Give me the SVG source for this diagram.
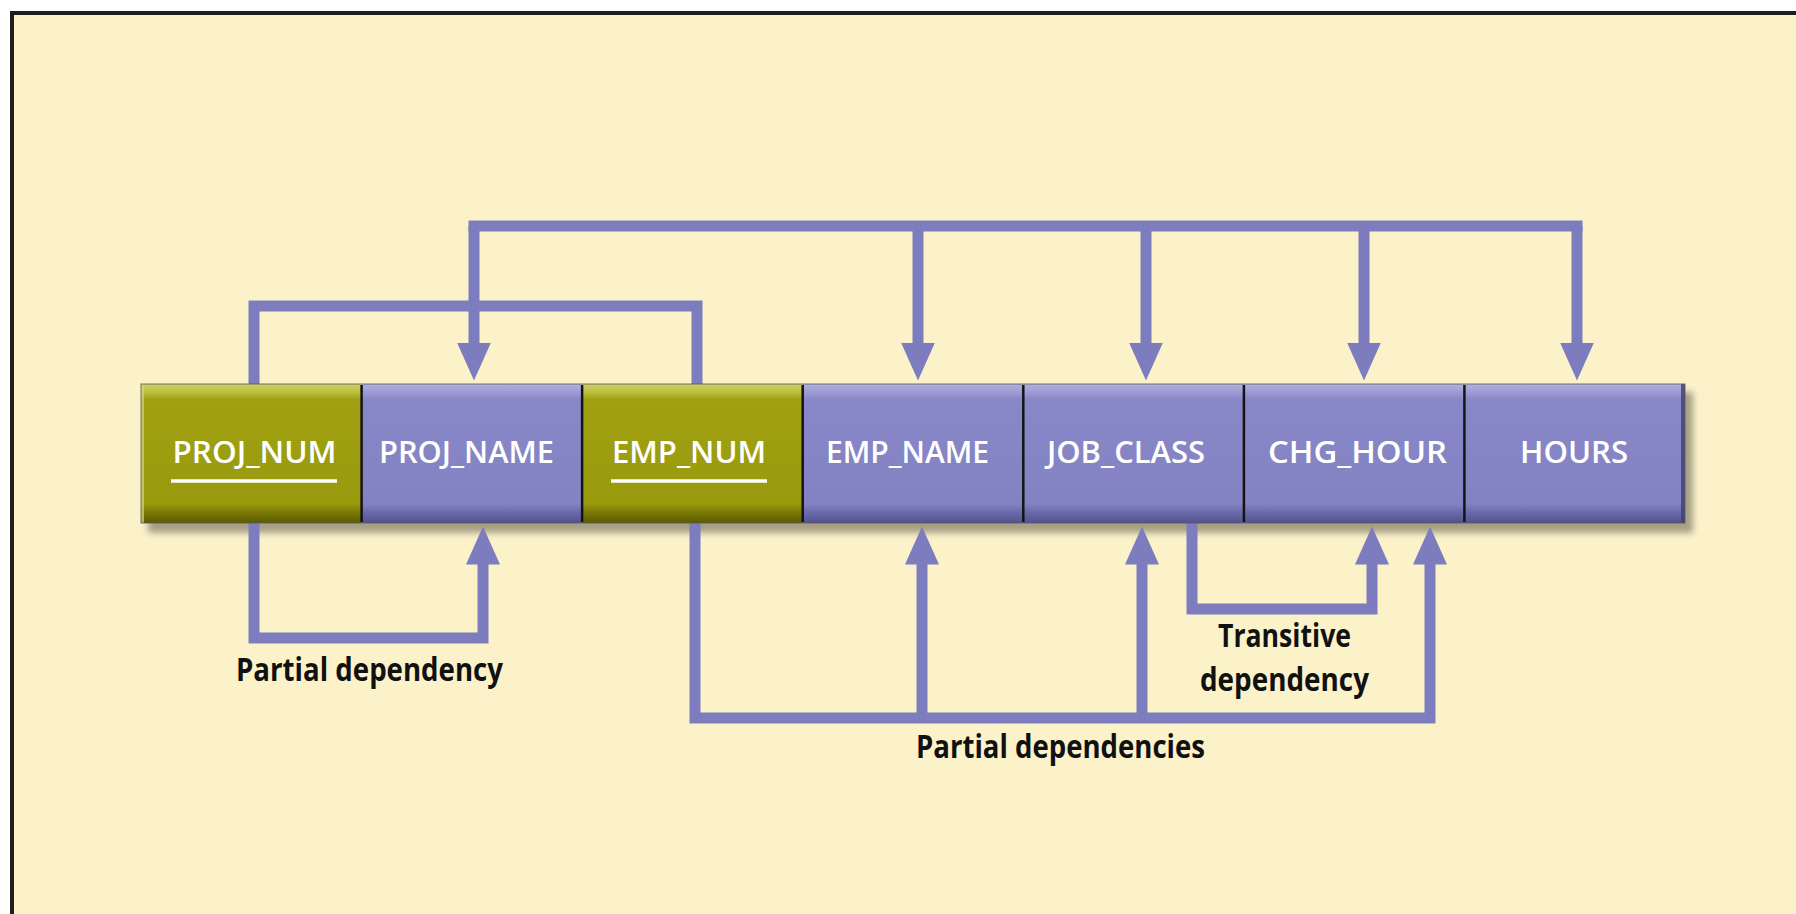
<svg xmlns="http://www.w3.org/2000/svg" width="1796" height="914" viewBox="0 0 1796 914">
  <defs>
    <style>
      .frame { fill: none; stroke: #1e1e1e; stroke-width: 4; }
      .link { fill: none; stroke: #7c7cbf; stroke-width: 11; stroke-linejoin: miter; stroke-linecap: butt; }
      .bus { stroke-linecap: square; }
      .arrow { marker-end: url(#head); }
      .cell-olive { fill: url(#olive); }
      .cell-violet { fill: url(#violet); }
      .sep { stroke: #141414; stroke-width: 2.5; }
      .field { font-family: "Open Sans", "Liberation Sans", sans-serif; font-weight: 600; font-size: 31px; fill: #ffffff; }
      .key { stroke: #ffffff; stroke-width: 3.5; }
      .note { font-family: "Open Sans", "Liberation Sans", sans-serif; font-weight: 700; font-size: 32px; fill: #111111; }
    </style>
    <marker id="head" viewBox="0 -17 38 34" markerWidth="38" markerHeight="34" refX="0.5" refY="0" orient="auto" markerUnits="userSpaceOnUse">
      <path d="M0,-17 L38,0 L0,17 Z" fill="#7c7cbf"/>
    </marker>
    <linearGradient id="olive" x1="0" y1="0" x2="0" y2="1">
      <stop offset="0" stop-color="#cfcf6a"/>
      <stop offset="0.06" stop-color="#bdbd3e"/>
      <stop offset="0.11" stop-color="#a0a012"/>
      <stop offset="0.86" stop-color="#9a9a0e"/>
      <stop offset="0.92" stop-color="#7b7a04"/>
      <stop offset="1" stop-color="#5c5b00"/>
    </linearGradient>
    <linearGradient id="violet" x1="0" y1="0" x2="0" y2="1">
      <stop offset="0" stop-color="#b0b0e0"/>
      <stop offset="0.06" stop-color="#9c9cd4"/>
      <stop offset="0.11" stop-color="#8888c8"/>
      <stop offset="0.86" stop-color="#8383c4"/>
      <stop offset="0.92" stop-color="#6c6cac"/>
      <stop offset="1" stop-color="#525290"/>
    </linearGradient>
    <filter id="soft" x="-5%" y="-30%" width="110%" height="160%">
      <feGaussianBlur stdDeviation="3"/>
    </filter>
  </defs>

  <!-- page and panel -->
  <rect x="0" y="0" width="1796" height="914" fill="#ffffff"/>
  <rect x="12" y="13" width="1784" height="901" fill="#fbf2ca"/>
  <path class="frame" d="M12,914 V13 H1796"/>

  <!-- drop shadow under the record bar -->
  <rect x="148" y="392" width="1545" height="141" fill="#8a8470" opacity="0.75" filter="url(#soft)"/>

  <!-- dependency connectors -->
  <g id="connectors">
    <!-- composite key bracket -->
    <path class="link" d="M254,384 V306 H697 V384"/>
    <!-- full dependency bus -->
    <path class="link bus" d="M474,226 H1577"/>
    <path class="link arrow" d="M474,226 V343"/>
    <path class="link arrow" d="M918,226 V343"/>
    <path class="link arrow" d="M1146,226 V343"/>
    <path class="link arrow" d="M1364,226 V343"/>
    <path class="link arrow" d="M1577,226 V343"/>
    <!-- PROJ_NUM -> PROJ_NAME -->
    <path class="link arrow" d="M254,523 V638 H483 V564"/>
    <!-- EMP_NUM -> EMP_NAME, JOB_CLASS, CHG_HOUR -->
    <path class="link arrow" d="M695,523 V718 H1430 V564"/>
    <path class="link arrow" d="M922,718 V564"/>
    <path class="link arrow" d="M1142,718 V564"/>
    <!-- JOB_CLASS -> CHG_HOUR -->
    <path class="link arrow" d="M1192,523 V609 H1372 V564"/>
  </g>

  <!-- record fields -->
  <g id="PROJ_NUM">
    <rect class="cell-olive" x="141" y="384" width="220.6" height="139"/>
    <rect x="141" y="384" width="3" height="139" fill="#d6d67a" opacity="0.7"/>
    <text class="field" x="172.5" y="463" textLength="164" lengthAdjust="spacingAndGlyphs">PROJ_NUM</text>
    <line class="key" x1="171" y1="481" x2="337" y2="481"/>
  </g>
  <g id="PROJ_NAME">
    <rect class="cell-violet" x="361.6" y="384" width="220.5" height="139"/>
    <text class="field" x="379" y="463" textLength="175" lengthAdjust="spacingAndGlyphs">PROJ_NAME</text>
  </g>
  <g id="EMP_NUM">
    <rect class="cell-olive" x="582.1" y="384" width="220.6" height="139"/>
    <text class="field" x="612" y="463" textLength="154" lengthAdjust="spacingAndGlyphs">EMP_NUM</text>
    <line class="key" x1="611" y1="481" x2="767" y2="481"/>
  </g>
  <g id="EMP_NAME">
    <rect class="cell-violet" x="802.7" y="384" width="220.6" height="139"/>
    <text class="field" x="826" y="463" textLength="163" lengthAdjust="spacingAndGlyphs">EMP_NAME</text>
  </g>
  <g id="JOB_CLASS">
    <rect class="cell-violet" x="1023.3" y="384" width="220.6" height="139"/>
    <text class="field" x="1047" y="463" textLength="158" lengthAdjust="spacingAndGlyphs">JOB_CLASS</text>
  </g>
  <g id="CHG_HOUR">
    <rect class="cell-violet" x="1243.9" y="384" width="220.5" height="139"/>
    <text class="field" x="1268" y="463" textLength="179" lengthAdjust="spacingAndGlyphs">CHG_HOUR</text>
  </g>
  <g id="HOURS">
    <rect class="cell-violet" x="1464.4" y="384" width="220.6" height="139"/>
    <rect x="1681" y="384" width="4" height="139" fill="#3f3f70" opacity="0.8"/>
    <text class="field" x="1520" y="463" textLength="108" lengthAdjust="spacingAndGlyphs">HOURS</text>
  </g>

  <!-- field separators and bar outline -->
  <g id="separators">
    <rect x="141" y="384" width="1544" height="139" fill="none" stroke="#5a5a5a" stroke-width="1.2" opacity="0.7"/>
    <line class="sep" x1="361.6" y1="385" x2="361.6" y2="522"/>
    <line class="sep" x1="582.1" y1="385" x2="582.1" y2="522"/>
    <line class="sep" x1="802.7" y1="385" x2="802.7" y2="522"/>
    <line class="sep" x1="1023.3" y1="385" x2="1023.3" y2="522"/>
    <line class="sep" x1="1243.9" y1="385" x2="1243.9" y2="522"/>
    <line class="sep" x1="1464.4" y1="385" x2="1464.4" y2="522"/>
  </g>

  <!-- dependency labels -->
  <g id="labels">
    <text class="note" x="236" y="681" textLength="267" lengthAdjust="spacingAndGlyphs">Partial dependency</text>
    <text class="note" x="1218" y="647" textLength="133" lengthAdjust="spacingAndGlyphs">Transitive</text>
    <text class="note" x="1200" y="691" textLength="169" lengthAdjust="spacingAndGlyphs">dependency</text>
    <text class="note" x="916" y="758" textLength="289" lengthAdjust="spacingAndGlyphs">Partial dependencies</text>
  </g>
</svg>
